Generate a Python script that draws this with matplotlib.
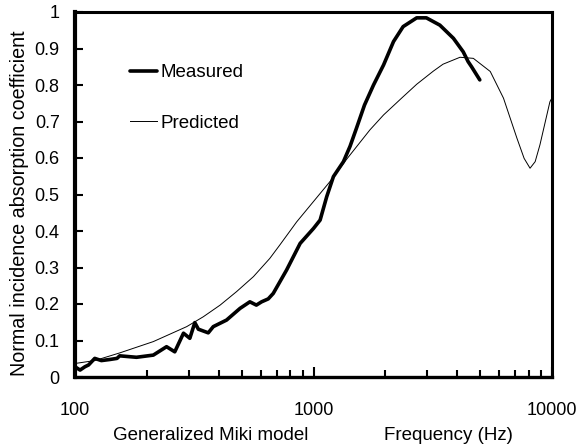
import matplotlib
matplotlib.use("Agg")
import matplotlib.pyplot as plt
from matplotlib.ticker import LogLocator, NullFormatter, FixedLocator, FixedFormatter

# Measured (thick line)
meas_f = [100, 105, 110, 114, 121, 129, 140, 150, 154, 181, 213, 242, 262, 285, 303,
          318, 329, 362, 380, 432, 492, 541, 576, 606, 646, 678, 771, 879, 1000, 1066,
          1136, 1212, 1335, 1423, 1513, 1636, 1785, 1967, 2165, 2376, 2708, 2973, 3387,
          3860, 4243, 4450, 4600, 4980]
meas_a = [0.028, 0.019, 0.028, 0.033, 0.051, 0.045, 0.048, 0.051, 0.058, 0.054, 0.060,
          0.083, 0.069, 0.120, 0.106, 0.149, 0.131, 0.121, 0.138, 0.156, 0.188, 0.206,
          0.197, 0.206, 0.214, 0.229, 0.293, 0.366, 0.407, 0.430, 0.494, 0.549, 0.590,
          0.632, 0.681, 0.745, 0.800, 0.855, 0.919, 0.960, 0.984, 0.984, 0.964, 0.928,
          0.891, 0.864, 0.850, 0.814]

# Predicted (thin line)
pred_f = [100, 121, 154, 213, 294, 345, 406, 476, 560, 656, 723, 850, 1171, 1390, 1724,
          1967, 2350, 2708, 3180, 3492, 4115, 4680, 5510, 6260, 6680, 7130, 7640, 8090,
          8500, 8900, 9800, 10000]
pred_a = [0.037, 0.045, 0.066, 0.097, 0.138, 0.165, 0.197, 0.234, 0.275, 0.325, 0.362,
          0.425, 0.535, 0.600, 0.677, 0.718, 0.765, 0.802, 0.838, 0.857, 0.876, 0.873,
          0.837, 0.764, 0.709, 0.654, 0.599, 0.572, 0.590, 0.636, 0.754, 0.765]

y_ticks = [0, 0.1, 0.2, 0.3, 0.4, 0.5, 0.6, 0.7, 0.8, 0.9, 1]
y_labels = ["0", "0.1", "0.2", "0.3", "0.4", "0.5", "0.6", "0.7", "0.8", "0.9", "1"]
x_ticks = [100, 1000, 10000]
x_labels = ["100", "1000", "10000"]

plt.rcParams['font.family'] = ['Liberation Sans', 'DejaVu Sans']

fig = plt.figure(figsize=(5.83, 4.45), dpi=100)
ax = fig.add_axes([75/583, 1 - 377/445, (552-75)/583, (377-12)/445])

ax.plot(meas_f, meas_a, color='black', lw=2.6, solid_capstyle='round',
        solid_joinstyle='round', label='Measured')
ax.plot(pred_f, pred_a, color='black', lw=0.7, label='Predicted')

ax.set_xscale('log')
ax.set_xlim(100, 10000)
ax.set_ylim(0, 1)

ax.xaxis.set_major_locator(FixedLocator(x_ticks))
ax.xaxis.set_major_formatter(FixedFormatter(x_labels))
ax.xaxis.set_minor_locator(LogLocator(base=10, subs=range(2, 10)))
ax.xaxis.set_minor_formatter(NullFormatter())
ax.yaxis.set_major_locator(FixedLocator(y_ticks))
ax.yaxis.set_major_formatter(FixedFormatter(y_labels))

ax.tick_params(axis='y', which='major', direction='in', length=6, width=1.5,
               labelsize=13, pad=11)
ax.tick_params(axis='x', which='major', direction='in', length=7, width=1.5,
               labelsize=13, pad=18)
ax.tick_params(axis='x', which='minor', direction='in', length=5, width=1.5)

for side, w in (('left', 3.0), ('bottom', 2.4), ('top', 2.2), ('right', 2.2)):
    ax.spines[side].set_linewidth(w)

fig.text(20/583, 1 - 203/445, 'Normal incidence absorption coefficient',
         rotation=90, ha='center', va='center', fontsize=14.2)

fig.text(211/583, 1 - 436/445, 'Generalized Miki model', ha='center', va='center',
         fontsize=13.5)
fig.text(448/583, 1 - 435/445, 'Frequency (Hz)', ha='center', va='center',
         fontsize=13.5)

ax.legend(loc='upper left', bbox_to_anchor=(55/477, 1 - 52/365), frameon=False,
          fontsize=13.5, handlelength=1.45, handletextpad=0.2, labelspacing=1.8,
          borderaxespad=0, borderpad=0)

fig.savefig('out.png', dpi=100)
